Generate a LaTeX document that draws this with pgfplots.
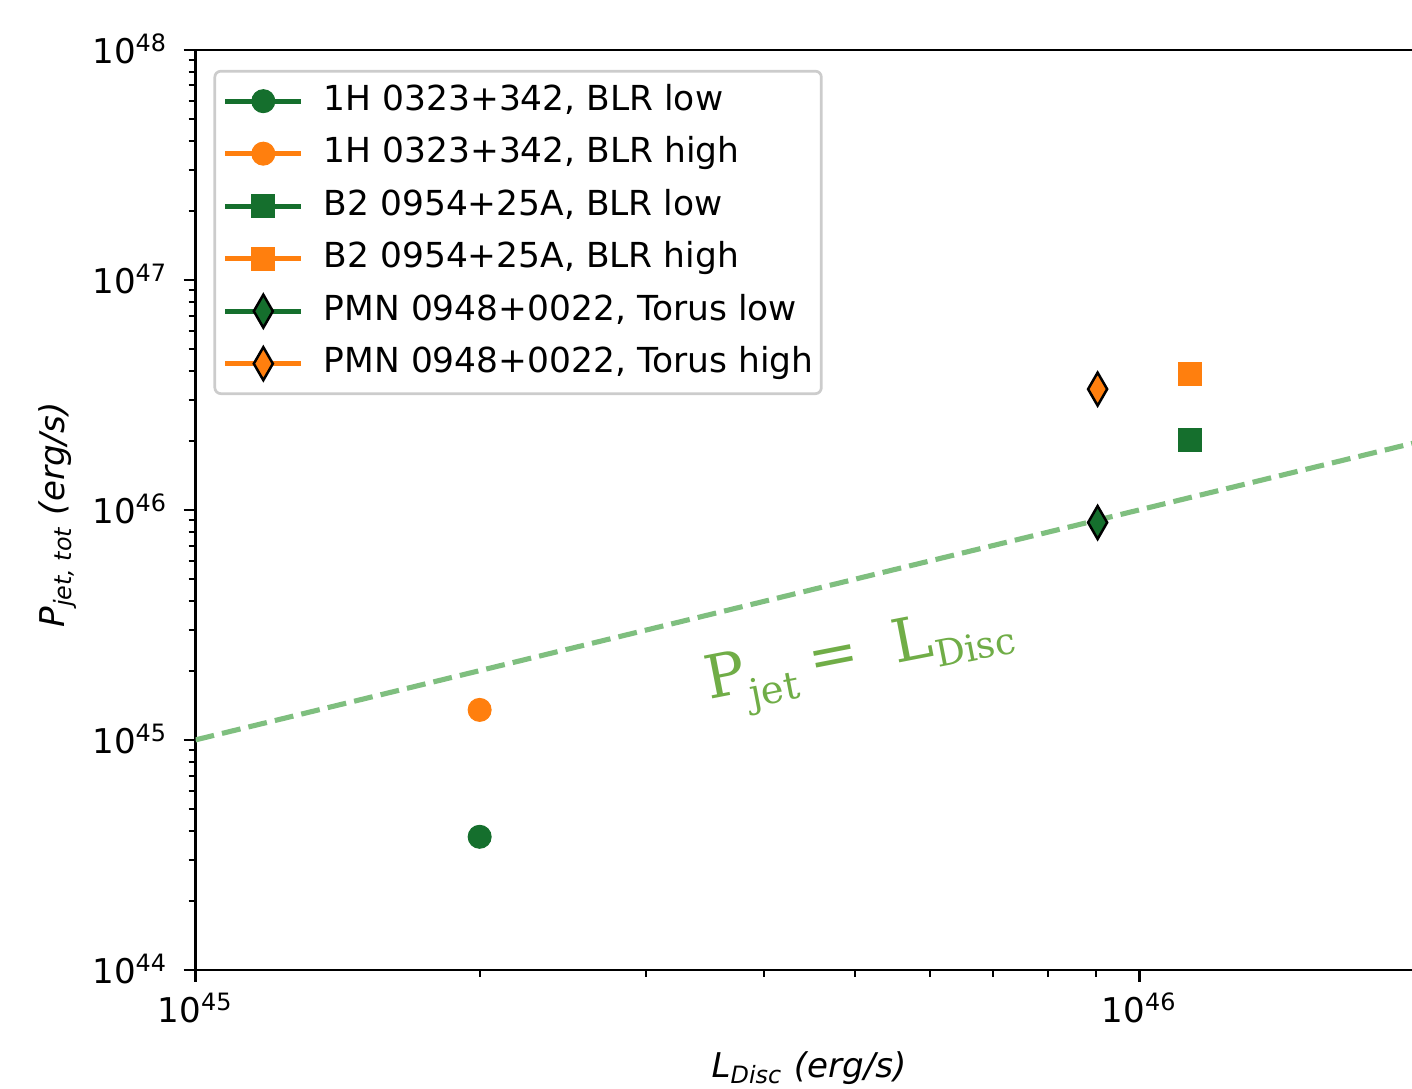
\documentclass[border=0pt]{standalone}
\usepackage{fontspec}
\setmainfont{DejaVu Sans}
\newfontfamily\annfont{DejaVu Serif}
\usepackage{pgfplots}
\pgfplotsset{compat=1.18}
\definecolor{dgreen}{RGB}{21,111,45}
\definecolor{orng}{RGB}{255,127,14}
\definecolor{lgreen}{RGB}{127,191,127}
\definecolor{anngreen}{HTML}{70AD47}
\newcommand\lbl{\fontsize{9.7}{11.6}\selectfont}
\newcommand\legfont{\fontsize{9.8}{11.6}\selectfont}

\begin{document}
\begin{tikzpicture}
\begin{axis}[
  name=ax,
  width=12.28cm, height=9.2cm, scale only axis,
  xmode=log, ymode=log,
  xmin=1e45, xmax=2e46, ymin=1e44, ymax=1e48,
  xtick={1e45,1e46},
  xticklabels={10\textsuperscript{45},10\textsuperscript{46}},
  ytick={1e44,1e45,1e46,1e47,1e48},
  yticklabels={10\textsuperscript{44},10\textsuperscript{45},10\textsuperscript{46},10\textsuperscript{47},10\textsuperscript{48}},
  minor xtick={2e45,3e45,4e45,5e45,6e45,7e45,8e45,9e45,2e46},
  minor ytick={2e44,3e44,4e44,5e44,6e44,7e44,8e44,9e44,
               2e45,3e45,4e45,5e45,6e45,7e45,8e45,9e45,
               2e46,3e46,4e46,5e46,6e46,7e46,8e46,9e46,
               2e47,3e47,4e47,5e47,6e47,7e47,8e47,9e47},
  tick pos=left, tick align=outside,
  major tick length=0.12cm, minor tick length=0.07cm,
  major tick style={line width=0.027cm, black},
  minor tick style={line width=0.02cm, black},
  axis line style={line width=0.027cm},
  tick label style={font=\lbl},
  xticklabel style={anchor=base, inner sep=0pt, yshift=-0.41cm},
  yticklabel style={anchor=base east, inner sep=0pt, xshift=-0.15cm, yshift=-0.14cm},
  legend cell align=left,
  legend style={at={(axis description cs:0.0146,0.9783)}, anchor=north west,
    draw=black!20, line width=0.027cm, rounded corners=0.06cm, fill=white,
    inner xsep=0.08cm, inner ysep=0.12cm, row sep=0.165cm, column sep=0.2cm,
    font=\legfont, nodes={inner sep=0pt, text height=0.27cm, text depth=0.09cm}},
  legend image code/.code={\draw[sharp corners, mark repeat=2, mark phase=2]
    plot coordinates {(0cm,0cm) (0.38cm,0cm) (0.76cm,0cm)};},
]
% y = x reference line
\addplot[lgreen, line width=0.051cm, dash pattern=on 0.19cm off 0.082cm, forget plot]
  coordinates {(1e45,1e45) (2e46,2e46)};

\addplot[dgreen, line width=0.05cm, mark=*, mark size=0.115cm,
  mark options={solid, fill=dgreen, line width=0.01cm}]
  coordinates {(2.0e45,3.79e44)};
\addlegendentry{1H 0323+342, BLR low}
\addplot[orng, line width=0.05cm, mark=*, mark size=0.115cm,
  mark options={solid, fill=orng, line width=0.01cm}]
  coordinates {(2.0e45,1.35e45)};
\addlegendentry{1H 0323+342, BLR high}
\addplot[dgreen, line width=0.05cm, mark=square*, mark size=0.115cm,
  mark options={solid, fill=dgreen, line width=0.01cm}]
  coordinates {(1.132e46,2.02e46)};
\addlegendentry{B2 0954+25A, BLR low}
\addplot[orng, line width=0.05cm, mark=square*, mark size=0.115cm,
  mark options={solid, fill=orng, line width=0.01cm}]
  coordinates {(1.132e46,3.89e46)};
\addlegendentry{B2 0954+25A, BLR high}
\addplot[dgreen, line width=0.05cm, mark=diamond*, mark size=0.165cm,
  mark options={solid, fill=dgreen, draw=black, line width=0.025cm, xscale=0.77}]
  coordinates {(9.03e45,8.81e45)};
\addlegendentry{PMN 0948+0022, Torus low}
\addplot[orng, line width=0.05cm, mark=diamond*, mark size=0.165cm,
  mark options={solid, fill=orng, draw=black, line width=0.025cm, xscale=0.77}]
  coordinates {(9.03e45,3.35e46)};
\addlegendentry{PMN 0948+0022, Torus high\hspace{0.05cm}}

\node[anchor=base west, rotate=11, text=anngreen, inner sep=0pt]
  at (axis cs:3.5e45,1.49e45)
  {\annfont\fontsize{17}{19}\selectfont P\raisebox{-0.26em}{\fontsize{11}{13}\selectfont jet}\hspace{0.14cm}=\hspace{0.36cm}L\raisebox{-0.2em}{\fontsize{10.5}{13}\selectfont Disc}};
\end{axis}
\node[anchor=base, font=\lbl] at ([yshift=-1.07cm]ax.south)
  {\textit{L\textsubscript{Disc} (erg/s)}};
\node[anchor=base, rotate=90, font=\lbl] at ([xshift=-1.30cm, yshift=-0.05cm]ax.west)
  {\textit{P\textsubscript{jet, tot} (erg/s)}};
\pgfresetboundingbox
\path ([shift={(-1.95cm,-1.18cm)}]ax.south west) rectangle ([shift={(12.17cm,9.70cm)}]ax.south west);
\end{tikzpicture}
\end{document}
